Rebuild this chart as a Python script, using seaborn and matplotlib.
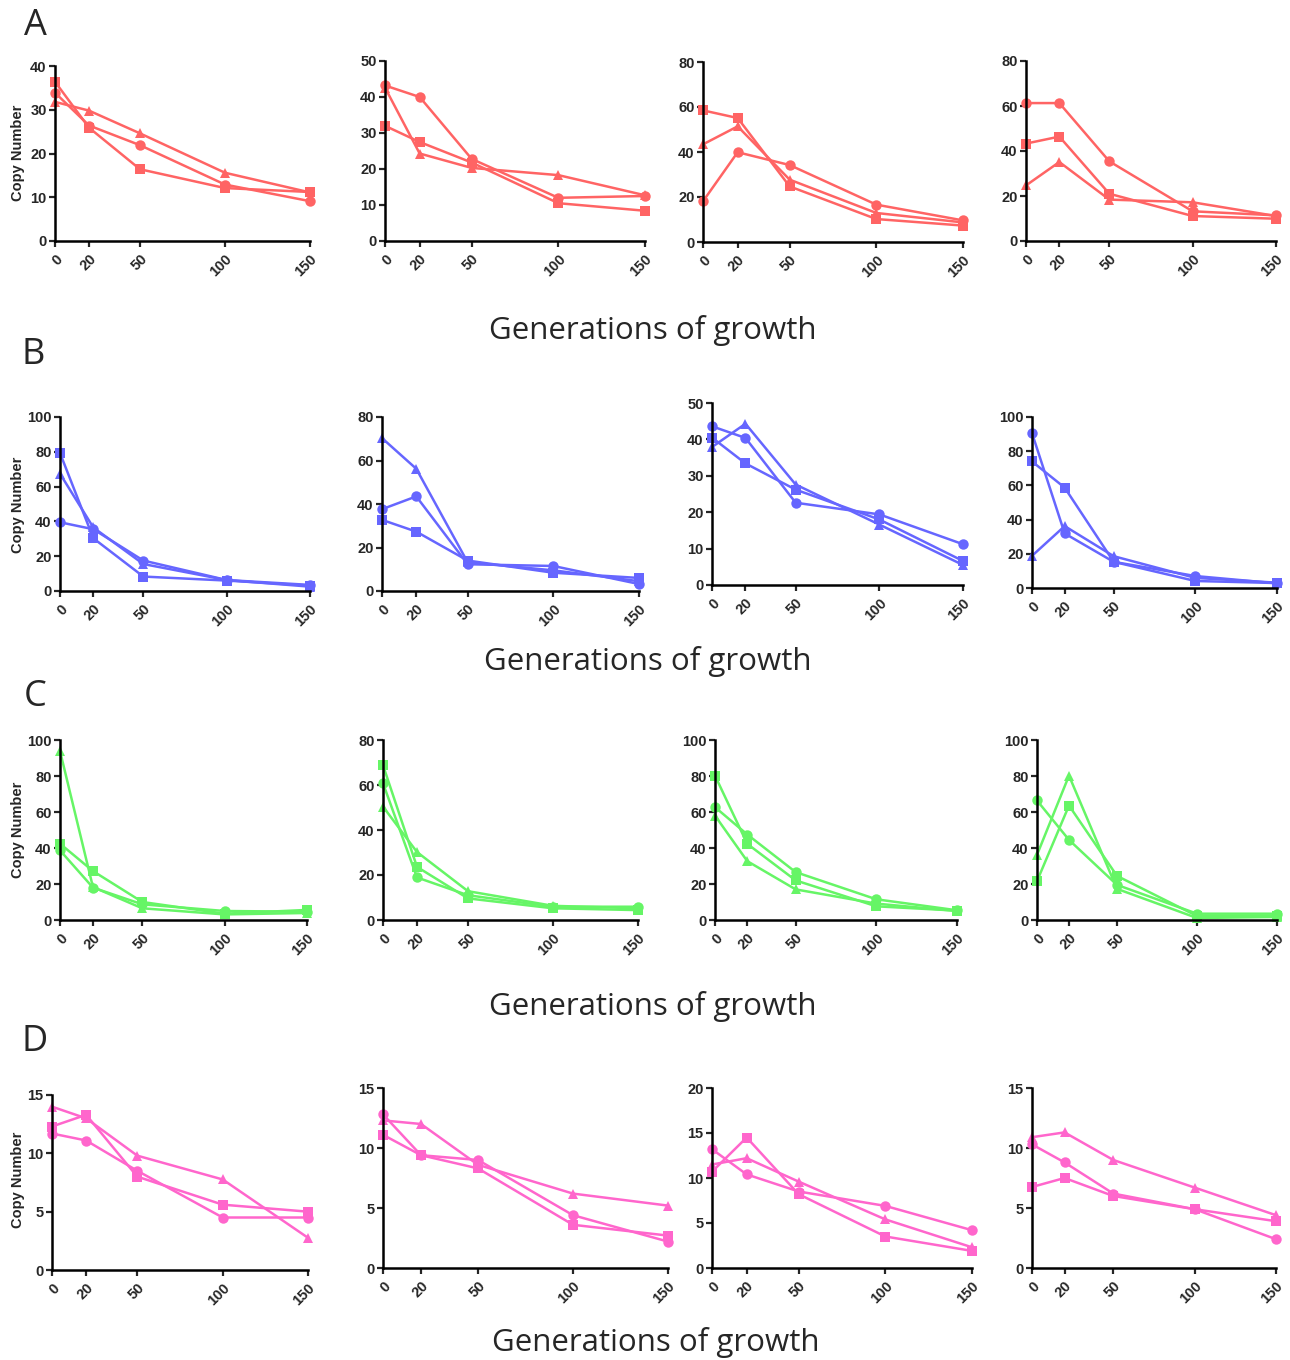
import matplotlib
matplotlib.use("Agg")
import matplotlib.pyplot as plt
import seaborn as sns

sns.set_theme(style="ticks")
plt.rcParams["font.family"] = ["Liberation Sans", "DejaVu Sans"]

generations = [0, 20, 50, 100, 150]
gen_labels = ["0", "20", "50", "100", "150"]

# Copy number per replicate line (circle, square, triangle), rows A-D, four strains each
A_circle = [[33.9, 26.4, 21.9, 12.9, 9.1], [43.2, 40.0, 22.8, 12.0, 12.5],
            [18.1, 39.9, 34.2, 16.6, 9.6], [61.3, 61.3, 35.4, 13.2, 11.4]]
A_square = [[36.4, 25.9, 16.4, 12.1, 11.2], [32.0, 27.5, 21.8, 10.5, 8.4],
            [58.5, 55.1, 24.7, 10.2, 7.3], [43.3, 46.4, 21.0, 11.1, 9.9]]
A_triangle = [[31.8, 29.8, 24.6, 15.6, 11.1], [42.6, 24.3, 20.3, 18.3, 12.7],
              [43.4, 51.4, 27.7, 12.9, 8.7], [24.7, 35.1, 18.4, 17.2, 11.1]]

B_circle = [[39.5, 35.5, 17.5, 6.3, 3.5], [37.6, 43.5, 12.3, 11.5, 3.2],
            [43.6, 40.4, 22.6, 19.4, 11.2], [90.6, 31.9, 15.3, 7.0, 2.7]]
B_square = [[79.3, 30.3, 8.3, 6.0, 3.1], [32.7, 27.3, 14.0, 8.4, 6.0],
            [40.5, 33.4, 26.2, 18.0, 6.6], [74.0, 58.7, 15.3, 4.1, 2.9]]
B_triangle = [[67.4, 36.5, 15.5, 6.3, 2.5], [70.3, 56.2, 13.2, 9.5, 4.5],
              [37.9, 44.3, 27.6, 16.6, 5.5], [18.8, 36.2, 18.6, 5.9, 3.1]]

C_circle = [[38.7, 18.0, 8.7, 5.0, 4.6], [60.8, 18.9, 11.0, 5.9, 5.9],
            [62.7, 47.5, 26.6, 11.5, 5.4], [66.4, 44.5, 19.5, 3.5, 3.5]]
C_square = [[42.4, 27.2, 10.0, 3.5, 5.6], [68.8, 23.6, 9.6, 5.2, 4.4],
            [80.2, 42.3, 22.0, 7.6, 5.2], [21.6, 63.6, 24.5, 2.2, 2.2]]
C_triangle = [[93.9, 18.3, 6.5, 3.1, 3.9], [50.4, 30.2, 12.8, 6.3, 5.2],
              [58.0, 32.7, 17.0, 9.1, 5.0], [36.2, 80.2, 17.3, 1.1, 1.7]]

D_circle = [[11.7, 11.1, 8.5, 4.5, 4.5], [12.8, 9.4, 9.0, 4.4, 2.2],
            [13.2, 10.4, 8.5, 6.9, 4.2], [10.3, 8.8, 6.2, 4.9, 2.4]]
D_square = [[12.3, 13.3, 8.0, 5.6, 5.0], [11.1, 9.4, 8.3, 3.6, 2.7],
            [10.7, 14.5, 8.2, 3.5, 1.9], [6.75, 7.5, 6.0, 4.9, 3.9]]
D_triangle = [[14.0, 13.0, 9.8, 7.76, 2.76], [12.3, 12.0, 8.6, 6.2, 5.2],
              [11.5, 12.2, 9.6, 5.4, 2.3], [10.9, 11.3, 9.0, 6.7, 4.4]]

row_letters = ["A", "B", "C", "D"]
row_colors = ["#FF6464", "#6666FF", "#66F566", "#FF66CC"]
row_data = [(A_circle, A_square, A_triangle), (B_circle, B_square, B_triangle),
            (C_circle, C_square, C_triangle), (D_circle, D_square, D_triangle)]
y_max = [[40, 50, 80, 80], [100, 80, 50, 100], [100, 80, 100, 100], [15, 15, 20, 15]]
y_step = [[10, 10, 20, 20], [20, 20, 10, 20], [20, 20, 20, 20], [5, 5, 5, 5]]

x_title = "Generations of growth"
y_title = "Copy Number"

W, H = 1290, 1360
fig = plt.figure(figsize=(W / 100, H / 100), dpi=100)

# axes boxes in pixels: (left, right, top, bottom)
boxes = [
    [(55, 310, 66, 241), (385, 645, 61, 241), (703, 963, 62, 242), (1026, 1276, 61, 241)],
    [(60, 310, 417, 591), (382, 639, 417, 591), (712, 963, 403, 585), (1032, 1277, 417, 588)],
    [(60, 307, 740, 920), (383, 638, 740, 920), (715, 957, 740, 920), (1037, 1277, 740, 920)],
    [(52, 308, 1095, 1270), (383, 668, 1088, 1268), (712, 972, 1088, 1268), (1032, 1276, 1088, 1268)],
]
letter_pos = [(35, 26), (33, 355), (35, 697), (35, 1042)]
title_pos = [(653, 330), (648, 661), (653, 1007), (656, 1343)]
ylabel_y = [153, 505, 830, 1180]

for r in range(4):
    circ, sq, tri = row_data[r]
    col = row_colors[r]
    for c in range(4):
        l, rt, t, b = boxes[r][c]
        ax = fig.add_axes([l / W, 1 - b / H, (rt - l) / W, (b - t) / H])
        for series, mk, ms in ((circ, "o", 7.5), (sq, "s", 7.5), (tri, "^", 7.5)):
            sns.lineplot(x=generations, y=series[c], ax=ax, color=col, marker=mk,
                         markersize=ms, markeredgewidth=0, linewidth=1.8,
                         clip_on=False, legend=False)
        ax.set_xlim(0, 150)
        ax.set_ylim(0, y_max[r][c])
        ax.set_xticks(generations)
        ax.set_xticklabels(gen_labels, rotation=45, ha="right", rotation_mode="anchor",
                           fontweight="bold", fontsize=10.5)
        ax.set_yticks(range(0, y_max[r][c] + 1, y_step[r][c]))
        ax.tick_params(axis="y", labelsize=10.5, width=1.6, length=4, pad=2)
        ax.tick_params(axis="x", width=1.6, length=4, pad=4)
        for lab in ax.get_yticklabels():
            lab.set_fontweight("bold")
        sns.despine(ax=ax)
        for s in ("left", "bottom"):
            ax.spines[s].set_linewidth(1.8)
            ax.spines[s].set_color("black")
        ax.set_facecolor("none")
        ax.set_xlabel("")
        ax.set_ylabel("")
    fig.text(letter_pos[r][0] / W, 1 - letter_pos[r][1] / H, row_letters[r],
             fontsize=26, family=["Open Sans", "DejaVu Sans"], ha="center", va="center")
    fig.text(title_pos[r][0] / W, 1 - title_pos[r][1] / H, x_title,
             fontsize=22.5, family=["Open Sans", "DejaVu Sans"], ha="center", va="center")
    fig.text(18 / W, 1 - ylabel_y[r] / H, y_title, rotation=90, fontsize=10.5,
             fontweight="bold", ha="center", va="center")

fig.savefig("out.png", dpi=100, facecolor="white")
